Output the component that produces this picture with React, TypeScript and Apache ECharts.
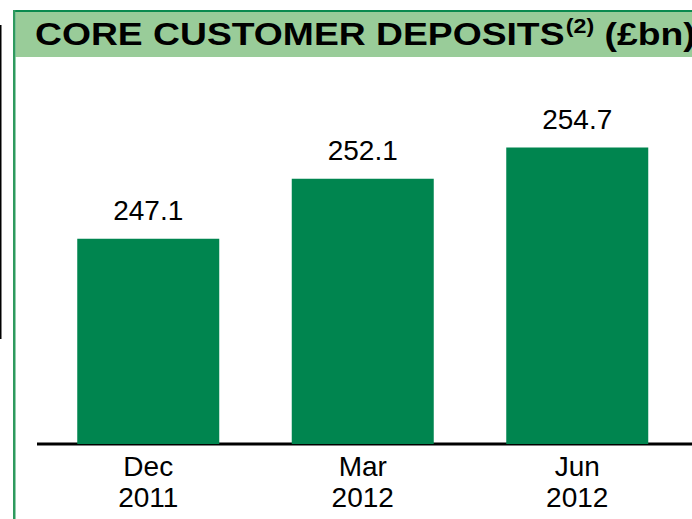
import React, { useEffect, useRef } from "react";
import * as echarts from "echarts";

const categories = ["Dec\n2011", "Mar\n2012", "Jun\n2012"];
const deposits = [247.1, 252.1, 254.7];
const yMin = 230;
const yMax = 260;

const FONT = "'Liberation Sans', Arial, sans-serif";

export default function App() {
  const ref = useRef<HTMLDivElement>(null);
  useEffect(() => {
    if (!ref.current) return;
    const chart = echarts.init(ref.current, null, { renderer: "svg" });
    chart.setOption({
      animation: false,
      backgroundColor: "#ffffff",
      grid: { left: 41, right: 7.5, top: 84, bottom: 75 },
      xAxis: {
        type: "category",
        data: categories,
        axisLine: { show: false },
        axisTick: { show: false },
        axisLabel: {
          color: "#000",
          fontFamily: FONT,
          fontSize: 28,
          lineHeight: 31,
          margin: 7,
        },
      },
      yAxis: {
        type: "value",
        min: yMin,
        max: yMax,
        show: false,
        splitLine: { show: false },
      },
      series: [
        {
          type: "bar",
          data: deposits,
          barWidth: 142,
          itemStyle: { color: "#00854F" },
          label: {
            show: true,
            position: "top",
            distance: 14,
            color: "#000",
            fontFamily: FONT,
            fontSize: 28,
            formatter: (p: any) => p.value.toFixed(1),
          },
        },
      ],
      graphic: [
        { type: "rect", shape: { x: 0, y: 25, width: 1.5, height: 314 }, style: { fill: "#000" }, silent: true },
        { type: "rect", shape: { x: 15.5, y: 12, width: 677, height: 45 }, style: { fill: "#99CC99" }, silent: true },
        { type: "rect", shape: { x: 13, y: 10, width: 679, height: 2 }, style: { fill: "#0B8A4F" }, silent: true },
        { type: "rect", shape: { x: 13, y: 10, width: 2.5, height: 509 }, style: { fill: "#2E9A5E" }, silent: true },
        { type: "rect", shape: { x: 37, y: 442.5, width: 655, height: 3 }, style: { fill: "#000" }, silent: true },
        {
          type: "text",
          x: 35,
          y: 34,
          scaleX: 1.165,
          silent: true,
          style: {
            text: "{a|CORE CUSTOMER DEPOSITS}{b|(2)}{a| (£bn)}",
            verticalAlign: "middle",
            align: "left",
            rich: {
              a: { fontFamily: FONT, fontWeight: "bold", fontSize: 32, fill: "#000", lineHeight: 36 },
              b: { fontFamily: FONT, fontWeight: "bold", fontSize: 20, fill: "#000", verticalAlign: "top", padding: [0, 0, 10, 1] },
            },
          },
        },
      ],
    });
    return () => chart.dispose();
  }, []);
  return (
    <div
      ref={ref}
      style={{ position: "fixed", left: 0, top: 0, width: 692, height: 519 }}
    />
  );
}
